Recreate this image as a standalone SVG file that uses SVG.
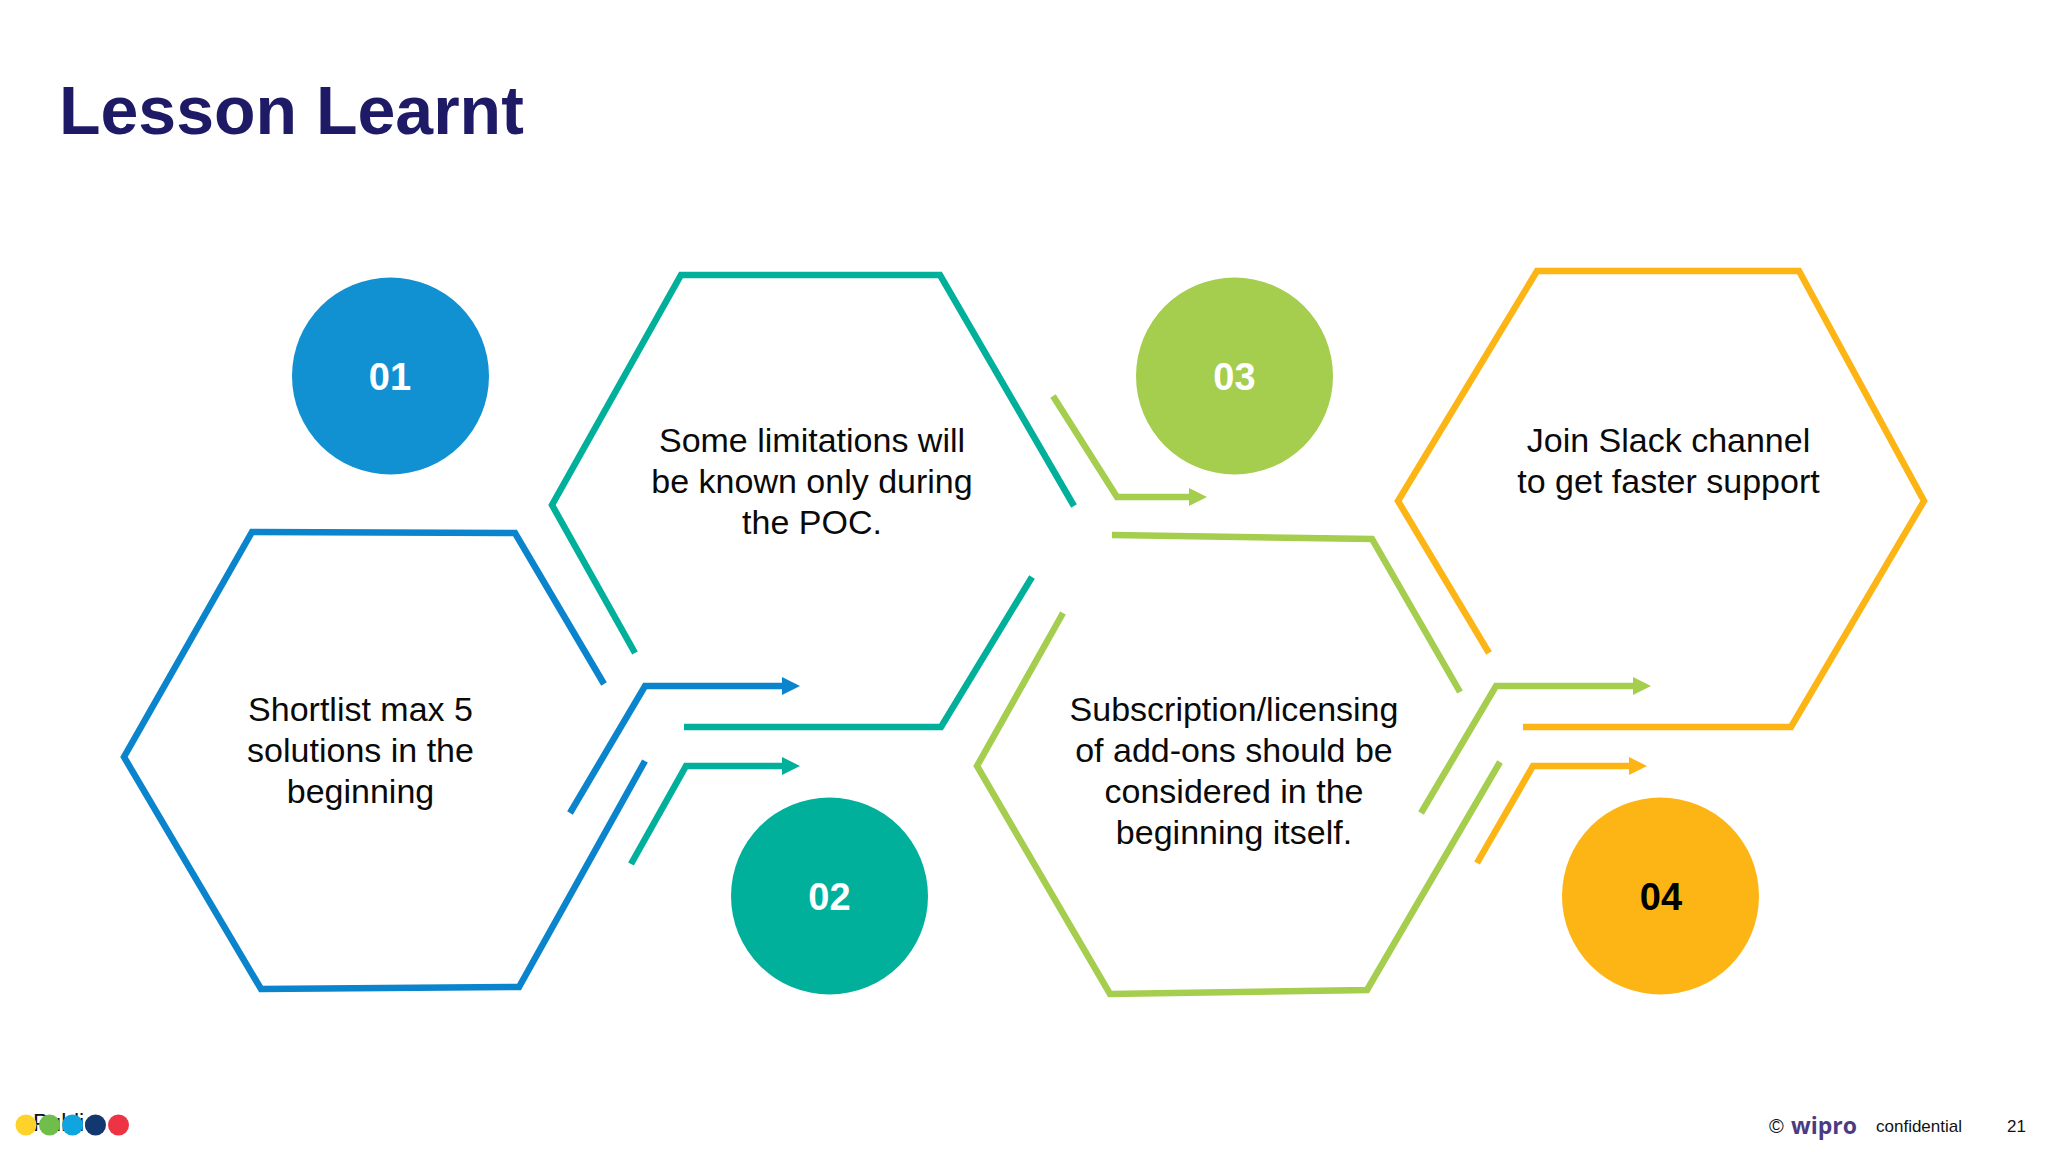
<svg xmlns="http://www.w3.org/2000/svg" width="2048" height="1152" viewBox="0 0 2048 1152">
<style>
text{font-family:"Liberation Sans",Arial,sans-serif}
.title{font-size:68px;font-weight:700;fill:#1f1a66}
.body{font-size:34px;fill:#0a0a0a;text-anchor:middle}
.num{font-size:38px;font-weight:700;text-anchor:middle;fill:#fff}
.foot{font-size:17px;fill:#111}
.ln{fill:none;stroke-width:6.5;stroke-linejoin:miter}
.blue{stroke:#0a84cc}.teal{stroke:#00b09b}.lime{stroke:#a5cd4e}.gold{stroke:#fdb515}
</style>
<defs>
<marker id="aBlue" markerUnits="userSpaceOnUse" markerWidth="19" markerHeight="20" refX="0" refY="10" orient="auto"><path d="M0 1L18 10L0 19Z" fill="#0a84cc"/></marker>
<marker id="aTeal" markerUnits="userSpaceOnUse" markerWidth="19" markerHeight="20" refX="0" refY="10" orient="auto"><path d="M0 1L18 10L0 19Z" fill="#00b09b"/></marker>
<marker id="aLime" markerUnits="userSpaceOnUse" markerWidth="19" markerHeight="20" refX="0" refY="10" orient="auto"><path d="M0 1L18 10L0 19Z" fill="#a5cd4e"/></marker>
<marker id="aGold" markerUnits="userSpaceOnUse" markerWidth="19" markerHeight="20" refX="0" refY="10" orient="auto"><path d="M0 1L18 10L0 19Z" fill="#fdb515"/></marker>
</defs>
<rect width="2048" height="1152" fill="#fff"/>
<text class="title" x="59" y="134">Lesson Learnt</text>
<g id="connectors">
<path class="ln blue" d="M604 684L515 533L252 532L124 757L261 989L519 987L645 761"/>
<path class="ln blue" d="M570 813L645 686H782" marker-end="url(#aBlue)"/>
<path class="ln teal" d="M635 653L552 505L681 275H940L1074 506"/>
<path class="ln teal" d="M1032 577L941 727H684"/>
<path class="ln teal" d="M631 864L686 766H782" marker-end="url(#aTeal)"/>
<path class="ln lime" d="M1053 396L1117 497H1189" marker-end="url(#aLime)"/>
<path class="ln lime" d="M1112 535L1372 539L1460 692"/>
<path class="ln lime" d="M1063 613L977 766L1110 994L1367 990L1500 762"/>
<path class="ln lime" d="M1421 813L1496 686H1633" marker-end="url(#aLime)"/>
<path class="ln gold" d="M1489 653L1398 501L1537 271H1799L1924 501L1791 727H1523"/>
<path class="ln gold" d="M1477 863L1533 766H1629" marker-end="url(#aGold)"/>
</g>
<g id="node-01"><circle cx="390.500" cy="376" r="98.500" fill="#1190d2"/><text class="num" x="390" y="390">01</text>
<text class="body"><tspan x="360.500" y="720.500">Shortlist max 5</tspan><tspan x="360.500" y="761.500">solutions in the</tspan><tspan x="360.500" y="802.500">beginning</tspan></text></g>
<g id="node-02"><circle cx="829.500" cy="896" r="98.500" fill="#00b09b"/><text class="num" x="829.500" y="910">02</text>
<text class="body"><tspan x="812" y="452">Some limitations will</tspan><tspan x="812" y="493">be known only during</tspan><tspan x="812" y="534">the POC.</tspan></text></g>
<g id="node-03"><circle cx="1234.500" cy="376" r="98.500" fill="#a5cd4e"/><text class="num" x="1234.500" y="390">03</text>
<text class="body"><tspan x="1234" y="720.500">Subscription/licensing</tspan><tspan x="1234" y="761.500">of add-ons should be</tspan><tspan x="1234" y="802.500">considered in the</tspan><tspan x="1234" y="843.500">beginning itself.</tspan></text></g>
<g id="node-04"><circle cx="1660.500" cy="896" r="98.500" fill="#fdb515"/><text class="num" x="1661" y="910" style="fill:#000">04</text>
<text class="body"><tspan x="1668.500" y="452">Join Slack channel</tspan><tspan x="1668.500" y="493">to get faster support</tspan></text></g>
<g id="footer">
<text x="33" y="1131" style="font-size:23px;fill:#111">Public</text>
<circle cx="26" cy="1125" r="10.500" fill="#fdd32b"/><circle cx="49.500" cy="1125" r="10.500" fill="#6fbe4a"/><circle cx="72.500" cy="1125" r="10.500" fill="#0ea5e0"/><circle cx="95.500" cy="1125" r="10.500" fill="#12386f"/><circle cx="118.500" cy="1125" r="10.500" fill="#ee3344"/>
<text class="foot" x="1769" y="1133" style="font-size:20px">©</text>
<text x="1791" y="1134" style="font-size:24px;font-weight:700;fill:#4b3b83;font-family:'Open Sans',sans-serif" textLength="66" lengthAdjust="spacingAndGlyphs">wipro</text>
<text class="foot" x="1876" y="1132">confidential</text>
<text class="foot" x="2007" y="1132">21</text>
</g>
</svg>
